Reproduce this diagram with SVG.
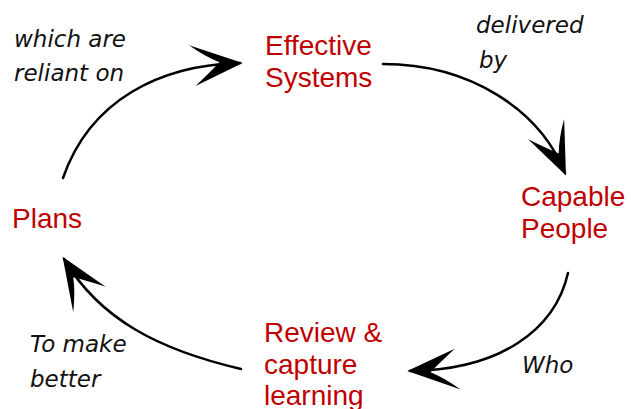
<svg xmlns="http://www.w3.org/2000/svg" width="631" height="409" viewBox="0 0 631 409">
<style>
.node{font-family:"Liberation Sans",Arial,sans-serif;font-size:28px;fill:#c00000}
.hand{font-family:"DejaVu Sans",sans-serif;font-style:italic;font-size:23px;fill:#111}
.conn{fill:none;stroke:#000;stroke-width:2.5;stroke-linecap:round}
</style>
<defs>
<marker id="ah" markerUnits="userSpaceOnUse" markerWidth="60" markerHeight="60" viewBox="-40 -20 44 40" refX="0" refY="0" orient="auto">
<path d="M2,0 L-37,-14 Q-25,-5 -15,-1 Q-22,6 -33,16 Z" fill="#000"/>
</marker>
</defs>
<rect width="631" height="409" fill="#fff"/>
<g id="connectors">
<path class="conn" d="M63,178 C90,100 160,65 240,63" marker-end="url(#ah)"/>
<path class="conn" d="M383,64 C470,64 540,110 565,173" marker-end="url(#ah)"/>
<path class="conn" d="M568,273 C555,330 500,370 410,371" marker-end="url(#ah)"/>
<path class="conn" d="M241,369 C160,350 100,320 64,259" marker-end="url(#ah)"/>
</g>
<g id="effective-systems"><text class="node" x="265" y="55">Effective</text><text class="node" x="265" y="87">Systems</text></g>
<g id="capable-people"><text class="node" x="521" y="206">Capable</text><text class="node" x="521" y="238">People</text></g>
<g id="review"><text class="node" x="264" y="342">Review &amp;</text><text class="node" x="264" y="374">capture</text><text class="node" x="264" y="405">learning</text></g>
<g id="plans"><text class="node" x="12" y="228">Plans</text></g>
<g id="labels">
<text class="hand" x="14" y="47">which are</text>
<text class="hand" x="14" y="81">reliant on</text>
<text class="hand" x="476" y="33">delivered</text>
<text class="hand" x="479" y="68">by</text>
<text class="hand" x="30" y="352">To make</text>
<text class="hand" x="30" y="387">better</text>
<text class="hand" x="522" y="373">Who</text>
</g>
</svg>
